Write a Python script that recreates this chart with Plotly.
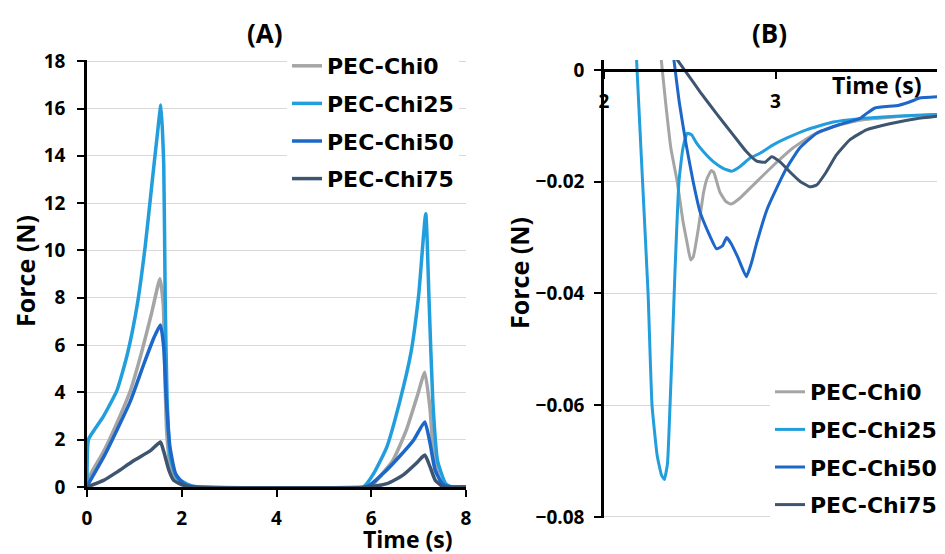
import plotly.graph_objects as go

# the page body keeps an 8px margin, so the figure is laid out in reference
# pixels shifted by OFF and made OFF smaller than the window
W, H = 945, 554
OFF = 8

names = ["PEC-Chi0", "PEC-Chi25", "PEC-Chi50", "PEC-Chi75"]
colors = ["#A5A5A5", "#229EDC", "#1C67C8", "#3E5570"]

# (A) full force cycle, time in s, force in N
t_a = [
    [0, 0.04, 0.35, 0.63, 0.92, 1.16, 1.37, 1.54, 1.61, 1.64, 1.68, 1.75, 1.9, 2.18, 2.4,
     6.0, 6.12, 6.45, 6.74, 6.98, 7.13, 7.24, 7.32, 7.45, 7.6, 8.0],
    [0, 0.03, 0.15, 0.35, 0.63, 0.85, 1.06, 1.23, 1.37, 1.49, 1.56, 1.62, 1.65, 1.69, 1.76, 1.9, 2.18, 2.4,
     5.83, 6.05, 6.33, 6.6, 6.84, 7.0, 7.15, 7.22, 7.3, 7.4, 7.57, 7.7, 8.0],
    [0, 0.02, 0.35, 0.63, 0.92, 1.2, 1.41, 1.55, 1.62, 1.67, 1.75, 1.87, 2.04, 2.25,
     5.9, 6.25, 6.6, 6.9, 7.13, 7.24, 7.35, 7.5, 7.65, 8.0],
    [0, 0.35, 0.63, 0.99, 1.34, 1.55, 1.62, 1.73, 1.83, 2.04, 2.3,
     5.9, 6.33, 6.67, 6.95, 7.13, 7.24, 7.35, 7.5, 7.65, 8.0],
]
f_a = [
    [0, 0.4, 1.5, 2.7, 4.1, 5.75, 7.4, 8.8, 7.7, 5.2, 2.4, 1.0, 0.28, 0.03, 0,
     0, 0.3, 1.1, 2.4, 3.9, 4.85, 3.3, 1.3, 0.3, 0, 0],
    [0, 2.0, 2.4, 3.0, 4.07, 5.6, 7.7, 10.2, 12.8, 15.0, 16.15, 13.6, 8.0, 3.8, 1.26, 0.4, 0.07, 0,
     0, 0.57, 1.7, 3.6, 5.7, 8.1, 11.55, 7.9, 3.6, 1.1, 0.14, 0, 0],
    [0, 0.1, 1.26, 2.4, 3.65, 5.2, 6.3, 6.85, 5.9, 3.8, 1.7, 0.56, 0.14, 0,
     0, 0.57, 1.3, 2.0, 2.75, 1.86, 0.7, 0.14, 0, 0],
    [0, 0.28, 0.63, 1.12, 1.54, 1.9, 1.5, 0.7, 0.28, 0.07, 0,
     0, 0.14, 0.5, 1.0, 1.35, 0.86, 0.29, 0.03, 0, 0],
]

# (B) zoom on the negative (adhesive) part
t_b = [
    [2.32, 2.36, 2.39, 2.427, 2.46, 2.485, 2.505, 2.52, 2.55, 2.58, 2.6, 2.625, 2.64, 2.675, 2.71,
     2.74, 2.79, 2.87, 2.99, 3.1, 3.22, 3.34, 3.49, 3.69, 3.99],
    [2.18, 2.22, 2.257, 2.28, 2.31, 2.335, 2.352, 2.37, 2.385, 2.40, 2.414, 2.437, 2.46, 2.485,
     2.511, 2.54, 2.579, 2.637, 2.695, 2.744, 2.792, 2.85, 2.909, 2.986, 3.064, 3.18, 3.336,
     3.49, 3.627, 3.82, 3.99],
    [2.395, 2.44, 2.48, 2.52, 2.56, 2.6, 2.656, 2.69, 2.715, 2.74, 2.78, 2.83, 2.86, 2.89, 2.95,
     3.006, 3.064, 3.14, 3.24, 3.37, 3.49, 3.53, 3.58, 3.72, 3.8, 3.84, 3.99],
    [2.40, 2.47, 2.56, 2.656, 2.753, 2.83, 2.89, 2.94, 2.977, 3.025, 3.083, 3.142, 3.2, 3.24,
     3.297, 3.355, 3.433, 3.53, 3.666, 3.82, 3.99],
]
f_b = [
    [0.006, -0.006, -0.014, -0.02, -0.027, -0.031, -0.034, -0.0335, -0.0284, -0.022, -0.0195,
     -0.018, -0.0183, -0.0218, -0.0235, -0.024, -0.023, -0.0206, -0.017, -0.014, -0.0116,
     -0.0101, -0.009, -0.0084, -0.0079],
    [0.008, -0.017, -0.04, -0.06, -0.069, -0.0725, -0.0733, -0.0705, -0.06, -0.048, -0.036,
     -0.02, -0.014, -0.0113, -0.0116, -0.0131, -0.0146, -0.0164, -0.0176, -0.0181, -0.0173,
     -0.0158, -0.0149, -0.0134, -0.0122, -0.0107, -0.0093, -0.0087, -0.0084, -0.0081, -0.0079],
    [0.005, -0.006, -0.0135, -0.02, -0.0254, -0.0285, -0.032, -0.0315, -0.030, -0.031, -0.0335,
     -0.037, -0.0345, -0.031, -0.025, -0.0212, -0.0176, -0.014, -0.0113, -0.0098, -0.0087,
     -0.0078, -0.0068, -0.0063, -0.0055, -0.005, -0.0047],
    [0.003, 0.0, -0.0039, -0.0078, -0.0116, -0.0146, -0.0163, -0.0165, -0.0155, -0.0164,
     -0.0182, -0.0199, -0.0209, -0.0206, -0.0182, -0.0152, -0.0125, -0.0107, -0.0096, -0.0087,
     -0.0081],
]

FW, FH = W - OFF, H - OFF


def px_x(v):
    return (v - OFF) / FW


def px_y(v):
    return 1 - (v - OFF) / FH


tick_font = dict(family="Open Sans", size=19, color="black", weight="bold")
grid = "#D9D9D9"

fig = go.Figure()

for i, name in enumerate(names):
    fig.add_trace(go.Scatter(
        x=t_a[i], y=f_a[i], name=name, mode="lines",
        line=dict(color=colors[i], width=3.5, shape="spline", smoothing=0.5),
        legendgroup="a%d" % i, legend="legend", xaxis="x", yaxis="y",
    ))
for i, name in enumerate(names):
    fig.add_trace(go.Scatter(
        x=t_b[i], y=f_b[i], name=name, mode="lines",
        line=dict(color=colors[i], width=3, shape="spline", smoothing=0.4),
        legendgroup="b%d" % i, legend="legend2", xaxis="x2", yaxis="y2",
    ))

axis_common = dict(
    showline=True, linecolor="black", linewidth=2.5, mirror=False,
    ticks="outside", ticklen=7, tickwidth=2, tickcolor="black",
    tickfont=tick_font, zeroline=False, automargin=False, fixedrange=True,
)

legend_common = dict(
    xanchor="left", yanchor="top", bgcolor="white", borderwidth=0,
    font=dict(family="DejaVu Sans", size=22, color="black", weight="bold"),
    tracegroupgap=6, traceorder="grouped", itemwidth=30,
)

title_font = dict(family="Open Sans", size=23, color="black", weight="bold")
big_font = dict(family="Open Sans", size=26, color="black", weight="bold")
ylab_font = dict(family="Open Sans", size=25, color="black", weight="bold")

annotations = [
    dict(text="(A)", x=px_x(265), y=px_y(33), font=big_font),
    dict(text="(B)", x=px_x(769), y=px_y(33), font=big_font),
    dict(text="Time (s)", x=px_x(408), y=px_y(539), font=title_font),
    dict(text="Time (s)", x=px_x(877), y=px_y(85), font=title_font),
    dict(text="Force (N)", x=px_x(25), y=px_y(271), textangle=-90, font=ylab_font),
    dict(text="Force (N)", x=px_x(519), y=px_y(273), textangle=-90, font=ylab_font),
]
for a in annotations:
    a.update(xref="paper", yref="paper", showarrow=False, xanchor="center", yanchor="middle")

fig.update_layout(
    width=FW, height=FH,
    margin=dict(l=0, r=0, t=0, b=0),
    paper_bgcolor="white", plot_bgcolor="white",
    xaxis=dict(axis_common, domain=[px_x(87), px_x(466)], range=[0, 8], dtick=2,
               showgrid=False, anchor="y", ticklabelstandoff=5),
    yaxis=dict(axis_common, domain=[px_y(487), px_y(60)], range=[0, 18.05], dtick=2,
               showgrid=True, gridcolor=grid, gridwidth=1.3, anchor="x", ticklabelstandoff=8),
    xaxis2=dict(axis_common, domain=[px_x(604), 1.0], range=[2, 2 + (W - 604) / 171.5], dtick=1,
                showgrid=False, anchor="free", position=px_y(70), ticklabelstandoff=6),
    yaxis2=dict(axis_common, domain=[px_y(518), px_y(60)], range=[-0.0802, 0.0018], dtick=0.02, tick0=0,
                showgrid=True, gridcolor=grid, gridwidth=1.3, anchor="x2", ticklabelstandoff=6),
    legend=dict(legend_common, x=px_x(287), y=px_y(45)),
    legend2=dict(legend_common, x=px_x(770), y=px_y(371)),
    annotations=annotations,
    showlegend=True,
)

fig.write_html("out.html")
